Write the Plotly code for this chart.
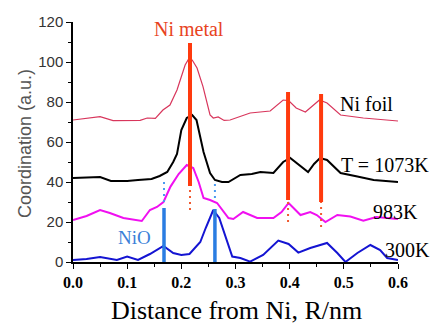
import plotly.graph_objects as go

# ---- data ----
foil_x = [0.0, 0.025, 0.05, 0.074, 0.1, 0.124, 0.137, 0.152, 0.166, 0.179, 0.192, 0.207, 0.213, 0.22, 0.229, 0.24, 0.253, 0.259, 0.268, 0.279, 0.29, 0.309, 0.327, 0.364, 0.388, 0.398, 0.412, 0.429, 0.445, 0.455, 0.469, 0.494, 0.536, 0.6]
foil_y = [71, 71.8, 72.7, 70.7, 70.8, 70.8, 72, 71.8, 76, 78.5, 86, 98.5, 101.3, 101, 97, 87.7, 73.5, 72, 72.5, 70.8, 71, 73, 74.5, 75.5, 81, 80.7, 77, 75, 79, 81, 79.5, 73.5, 72, 70.5]

t1073_x = [0.0, 0.03, 0.05, 0.07, 0.1, 0.12, 0.145, 0.16, 0.174, 0.185, 0.192, 0.2, 0.21, 0.22, 0.228, 0.241, 0.253, 0.262, 0.275, 0.287, 0.303, 0.309, 0.33, 0.346, 0.37, 0.388, 0.401, 0.415, 0.434, 0.445, 0.456, 0.469, 0.494, 0.525, 0.555, 0.6]
t1073_y = [42, 42.5, 42.5, 40.5, 40.5, 41, 41.5, 43, 45, 50, 54, 66, 72, 73.5, 71, 55, 44.5, 41, 40, 40, 42.7, 43.5, 44, 45, 44.5, 50, 52, 49, 45, 49, 52, 51, 44.5, 42.7, 41, 40]

t983_x = [0.0, 0.025, 0.05, 0.068, 0.093, 0.118, 0.127, 0.142, 0.155, 0.167, 0.18, 0.195, 0.21, 0.222, 0.232, 0.241, 0.253, 0.266, 0.287, 0.296, 0.314, 0.34, 0.37, 0.385, 0.398, 0.42, 0.438, 0.45, 0.466, 0.488, 0.512, 0.536, 0.56, 0.58, 0.6]
t983_y = [21, 23, 26, 24.5, 22, 21, 20.5, 26, 27.5, 30, 37.7, 44, 48.5, 47, 40, 32, 31, 29.5, 22, 21.5, 25, 22, 22, 25, 29.5, 23.5, 25, 23.5, 20, 23.5, 22.7, 20.7, 22.5, 22, 21.5]

t300_x = [0.0, 0.025, 0.05, 0.081, 0.1, 0.12, 0.142, 0.167, 0.185, 0.2, 0.215, 0.235, 0.245, 0.259, 0.27, 0.28, 0.294, 0.309, 0.327, 0.351, 0.379, 0.398, 0.416, 0.438, 0.469, 0.488, 0.503, 0.525, 0.549, 0.567, 0.58, 0.6]
t300_y = [1, 1.5, 2.5, 1, 2.7, 1, 4, 8, 4.5, 3.5, 4, 10, 17, 26, 22, 14, 2.7, 2, 0.2, 3.5, 10.7, 9, 4.7, 7, 9.5, 4.5, 0, 4.5, 8.5, 6, 2, 1]

metal_x = [0.216, 0.397, 0.458]
metal_top = [109.5, 85, 84]
metal_bottom = [38, 31, 30]
metal_dot_end = [26, 20, 17.5]

nio_x = [0.168, 0.262]
nio_top = [27, 26.5]
nio_dot_top = [40, 40]
nio_dot_bottom = [30, 32]

x_ticks = [0.0, 0.1, 0.2, 0.3, 0.4, 0.5, 0.6]
y_ticks = [0, 20, 40, 60, 80, 100, 120]

RED = "#ff3a0e"
BLUE = "#2a7de2"

fig = go.Figure()

def add_curve(x, y, color, width):
    fig.add_trace(go.Scatter(x=x, y=y, mode="lines", line=dict(color=color, width=width),
                             showlegend=False, hoverinfo="skip"))

add_curve(foil_x, foil_y, "#d8365c", 1.2)
add_curve(t1073_x, t1073_y, "#000000", 2)
add_curve(t983_x, t983_y, "#f010f0", 2)
add_curve(t300_x, t300_y, "#1414d2", 2)

def vsegments(xs, y0s, y1s):
    X, Y = [], []
    for x, a, b in zip(xs, y0s, y1s):
        X += [x, x, None]
        Y += [a, b, None]
    return X, Y

X, Y = vsegments(metal_x, metal_bottom, metal_top)
fig.add_trace(go.Scatter(x=X, y=Y, mode="lines", line=dict(color=RED, width=4),
                         showlegend=False, hoverinfo="skip"))
X, Y = vsegments(metal_x, metal_dot_end, metal_bottom)
fig.add_trace(go.Scatter(x=X, y=Y, mode="lines", line=dict(color="#f05a30", width=2, dash="2px,4px"),
                         showlegend=False, hoverinfo="skip"))
X, Y = vsegments(nio_x, [0, 0], nio_top)
fig.add_trace(go.Scatter(x=X, y=Y, mode="lines", line=dict(color=BLUE, width=3.5),
                         showlegend=False, hoverinfo="skip"))
X, Y = vsegments(nio_x, nio_dot_bottom, nio_dot_top)
fig.add_trace(go.Scatter(x=X, y=Y, mode="lines", line=dict(color="#4a9af0", width=2, dash="2px,4px"),
                         showlegend=False, hoverinfo="skip"))

SERIF = "Liberation Serif"
SANS = "Liberation Sans"

def px_x(p):
    return (p - 73) / 325.0

labels = [
    ("Ni metal", 189, 116.5, "#e8431e", 20),
    ("Ni foil", 366, 79, "#000000", 20),
    ("T = 1073K", 385, 48.5, "#000000", 20),
    ("983K", 395, 25, "#000000", 20),
    ("300K", 407, 6, "#000000", 20),
    ("NiO", 134, 12.5, "#3a80d8", 19),
]
for text, px, yv, col, sz in labels:
    fig.add_annotation(text=text, xref="paper", x=px_x(px), yref="y", y=yv,
                       xanchor="center", yanchor="middle", showarrow=False,
                       font=dict(family=SERIF, size=sz, color=col))

fig.add_annotation(text="Coordination (a.u.)", xref="paper", x=px_x(25), yref="paper", y=(262 - 143) / 240.0,
                   textangle=-90, showarrow=False, xanchor="center", yanchor="middle",
                   font=dict(family=SANS, size=18, color="#555555"))
fig.add_annotation(text="Distance from Ni, R/nm", xref="paper", x=px_x(236.5), yref="paper", y=-(310 - 262) / 240.0,
                   showarrow=False, xanchor="center", yanchor="middle",
                   font=dict(family=SERIF, size=26, color="#000000"))

fig.update_layout(
    width=435, height=323,
    margin=dict(l=73, r=37, t=22, b=61),
    paper_bgcolor="white", plot_bgcolor="white",
    xaxis=dict(range=[0, 0.6], tickvals=x_ticks, ticktext=[f"<b>{v:.1f}</b>" for v in x_ticks],
               showgrid=False, zeroline=False, showline=True, linecolor="#000", linewidth=1.5,
               ticks="outside", ticklen=5, tickwidth=1.2, tickcolor="#000",
               minor=dict(ticks="outside", ticklen=3, tickwidth=1, tickcolor="#000", dtick=0.05, tick0=0),
               tickfont=dict(family=SERIF, size=16, color="#000")),
    yaxis=dict(range=[0, 120], tickvals=y_ticks,
               showgrid=False, zeroline=False, showline=True, linecolor="#000", linewidth=1.5,
               ticks="outside", ticklen=5, tickwidth=1.2, tickcolor="#000",
               minor=dict(ticks="outside", ticklen=3, tickwidth=1, tickcolor="#000", dtick=10, tick0=0),
               tickfont=dict(family=SANS, size=15, color="#333333")),
)

fig.write_html("out.html", config={"displayModeBar": False},
               post_script="document.body.style.margin='0';")
